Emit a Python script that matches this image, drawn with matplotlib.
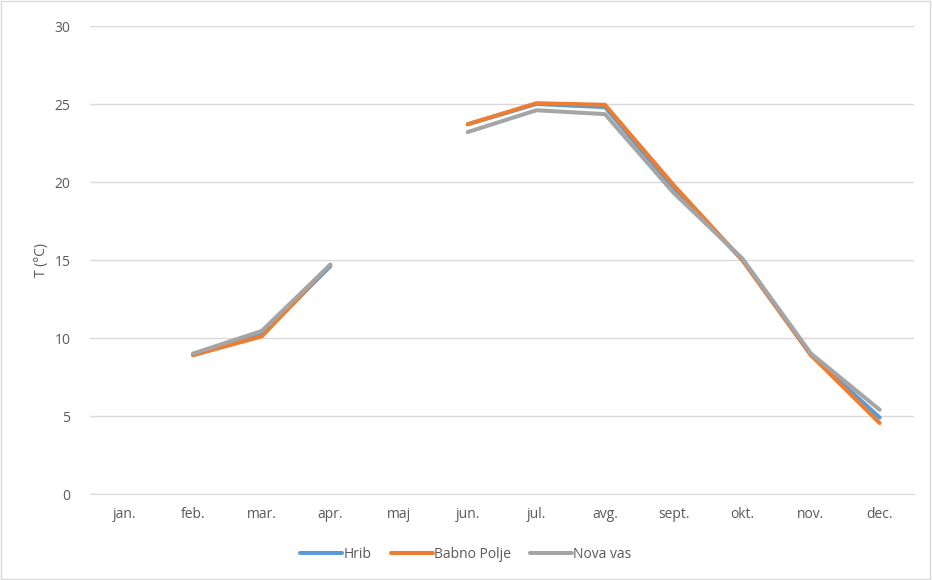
import numpy as np
import matplotlib
matplotlib.use("Agg")
import matplotlib.pyplot as plt
from matplotlib.patches import Rectangle

months = ["jan.", "feb.", "mar.", "apr.", "maj", "jun.", "jul.", "avg.", "sept.", "okt.", "nov.", "dec."]
nan = np.nan
hrib = [nan, 8.9, 10.2, 14.6, nan, 23.7, 25.0, 24.8, 19.6, 15.0, 8.9, 4.9]
babno_polje = [nan, 8.9, 10.1, 14.7, nan, 23.7, 25.05, 24.95, 19.8, 15.0, 8.9, 4.55]
nova_vas = [nan, 9.0, 10.45, 14.7, nan, 23.2, 24.6, 24.35, 19.3, 15.1, 9.0, 5.4]

series = [("Hrib", hrib, "#5B9BD5"),
          ("Babno Polje", babno_polje, "#ED7D31"),
          ("Nova vas", nova_vas, "#A5A5A5")]

plt.rcParams["font.family"] = ["Open Sans", "DejaVu Sans"]
text_col = "#595959"

fig = plt.figure(figsize=(9.32, 5.8), dpi=100)
ax = fig.add_axes([90 / 932, (580 - 494) / 580, (914 - 90) / 932, (494 - 26) / 580])

x = np.arange(len(months))
for name, vals, col in series:
    ax.plot(x, vals, color=col, lw=2.9, label=name, solid_capstyle="round", solid_joinstyle="round")

ax.set_xlim(-0.5, len(months) - 0.5)
ax.set_ylim(0, 30)
ax.set_yticks(np.arange(0, 31, 5))
ax.set_xticks(x)
ax.set_xticklabels(months)
ax.yaxis.grid(True, color="#D9D9D9", lw=1)
ax.set_axisbelow(True)
for s in ["top", "right", "left"]:
    ax.spines[s].set_visible(False)
ax.spines["bottom"].set_color("#D9D9D9")
ax.tick_params(axis="both", length=0, colors=text_col, labelsize=10)
ax.tick_params(axis="x", pad=9)
ax.tick_params(axis="y", pad=14)
ax.set_ylabel("T (°C)", color=text_col, fontsize=10, labelpad=4)

leg = fig.legend(loc="center", bbox_to_anchor=(0.5, (580 - 554) / 580), ncol=3, frameon=False,
                 fontsize=10, handlelength=3.0, handletextpad=0.1, columnspacing=1.4)
for t in leg.get_texts():
    t.set_color(text_col)

fig.patches.append(Rectangle((0.001, 0.002), 0.997, 0.996, transform=fig.transFigure,
                             fill=False, edgecolor="#D9D9D9", lw=1))

fig.savefig("out.png", dpi=100)
